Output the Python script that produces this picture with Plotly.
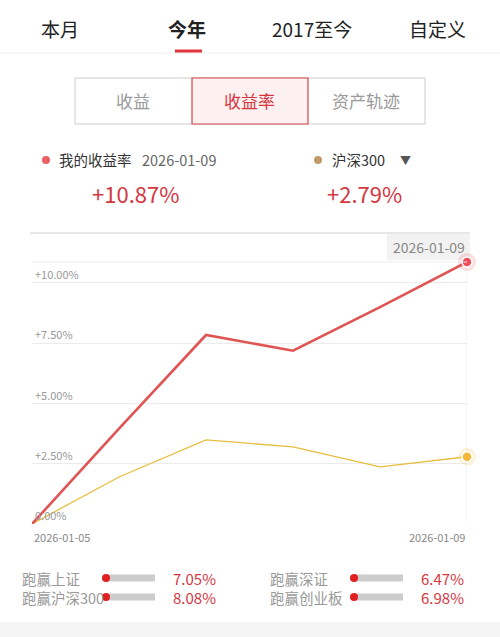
import plotly.graph_objects as go

# ---------------- data ----------------
dates = ["2026-01-05", "2026-01-06", "2026-01-07", "2026-01-08", "2026-01-09"]
x_index = [0, 1, 2, 3, 4, 5]
my_rate = [0.0, 3.96, 7.84, 7.19, 9.0, 10.87]
hs300 = [0.0, 1.95, 3.49, 3.20, 2.37, 2.79]
y_ticks = [0, 2.5, 5, 7.5, 10]
y_ticktext = ["0.00%", "+2.50%", "+5.00%", "+7.50%", "+10.00%"]
tabs = ["本月", "今年", "2017至今", "自定义"]
segments = ["收益", "收益率", "资产轨迹"]
stats_left = [("跑赢上证", "7.05%"), ("跑赢沪深300", "8.08%")]
stats_right = [("跑赢深证", "6.47%"), ("跑赢创业板", "6.98%")]

W, H = 500, 637
L, R, T, B = 32, 467, 262, 524
FONT = "Noto Sans CJK SC"
RED_TXT = "#d4373f"
RED_LINE = "#e05454"
YEL = "#e8bd3f"


def px(x):
    return (x - L) / (R - L)


def py(y):
    return (B - y) / (B - T)


fig = go.Figure()

# series
fig.add_trace(go.Scatter(x=x_index, y=hs300, mode="lines",
                         line=dict(color=YEL, width=1.3), hoverinfo="skip"))
fig.add_trace(go.Scatter(x=x_index, y=my_rate, mode="lines",
                         line=dict(color=RED_LINE, width=2.6), hoverinfo="skip"))
# end markers with halo
fig.add_trace(go.Scatter(x=[x_index[-1]], y=[hs300[-1]], mode="markers", cliponaxis=False,
                         marker=dict(size=18, color="rgba(240,190,60,0.18)", line=dict(width=0)),
                         hoverinfo="skip"))
fig.add_trace(go.Scatter(x=[x_index[-1]], y=[hs300[-1]], mode="markers", cliponaxis=False,
                         marker=dict(size=10, color="#f2b83a", line=dict(color="white", width=1.5)),
                         hoverinfo="skip"))
fig.add_trace(go.Scatter(x=[x_index[-1]], y=[my_rate[-1]], mode="markers", cliponaxis=False,
                         marker=dict(size=18, color="rgba(235,80,90,0.18)", line=dict(width=0)),
                         hoverinfo="skip"))
fig.add_trace(go.Scatter(x=[x_index[-1]], y=[my_rate[-1]], mode="markers", cliponaxis=False,
                         marker=dict(size=10, color="#ee4d5a", line=dict(color="white", width=1.5)),
                         hoverinfo="skip"))

shapes = []
ann = []

# top tabs
tab_x = [60, 187, 312, 437]
for t, xx in zip(tabs, tab_x):
    ann.append(dict(x=px(xx), y=py(28), xref="paper", yref="paper", text=("<b>%s</b>" % t) if t == "今年" else t,
                    showarrow=False, font=dict(family=FONT, size=19, color="#222"),
                    xanchor="center", yanchor="middle"))
shapes.append(dict(type="line", xref="paper", yref="paper", x0=px(0), x1=px(500), y0=py(53), y1=py(53),
                   line=dict(color="#eeeeee", width=1)))
shapes.append(dict(type="line", xref="paper", yref="paper", x0=px(175), x1=px(202), y0=py(51), y1=py(51),
                   line=dict(color="#e0343c", width=3)))

# segmented control
shapes.append(dict(type="rect", xref="paper", yref="paper", x0=px(75), x1=px(425), y0=py(124), y1=py(78),
                   line=dict(color="#cccccc", width=1), fillcolor="white"))
shapes.append(dict(type="rect", xref="paper", yref="paper", x0=px(192), x1=px(308), y0=py(124), y1=py(78),
                   line=dict(color="#d6444b", width=1.2), fillcolor="#fdf0f0"))
seg_x = [133, 250, 366]
for s, xx in zip(segments, seg_x):
    ann.append(dict(x=px(xx), y=py(101), xref="paper", yref="paper", text=s, showarrow=False,
                    font=dict(family=FONT, size=17, color=RED_TXT if s == "收益率" else "#999999"),
                    xanchor="center", yanchor="middle"))

# legend row
shapes.append(dict(type="circle", xref="paper", yref="paper", x0=px(42), x1=px(50), y0=py(156), y1=py(164),
                   fillcolor="#e8605f", line=dict(width=0)))
ann.append(dict(x=px(57), y=py(160), xref="paper", yref="paper", text="我的收益率", showarrow=False,
                font=dict(family=FONT, size=14.5, color="#333"), xanchor="left", yanchor="middle"))
ann.append(dict(x=px(140), y=py(160), xref="paper", yref="paper", text=dates[-1], showarrow=False,
                font=dict(family=FONT, size=14.5, color="#666"), xanchor="left", yanchor="middle"))
shapes.append(dict(type="circle", xref="paper", yref="paper", x0=px(314), x1=px(322), y0=py(156), y1=py(164),
                   fillcolor="#c29a68", line=dict(width=0)))
ann.append(dict(x=px(330), y=py(160), xref="paper", yref="paper", text="沪深300", showarrow=False,
                font=dict(family=FONT, size=14.5, color="#333"), xanchor="left", yanchor="middle"))
ann.append(dict(x=px(405), y=py(160), xref="paper", yref="paper", text="▼", showarrow=False,
                font=dict(family=FONT, size=11, color="#555"), xanchor="center", yanchor="middle"))
ann.append(dict(x=px(135), y=py(193), xref="paper", yref="paper", text="+%.2f%%" % my_rate[-1], showarrow=False,
                font=dict(family=FONT, size=22, color=RED_TXT), xanchor="center", yanchor="middle"))
ann.append(dict(x=px(364), y=py(193), xref="paper", yref="paper", text="+%.2f%%" % hs300[-1], showarrow=False,
                font=dict(family=FONT, size=22, color=RED_TXT), xanchor="center", yanchor="middle"))

# chart frame elements
shapes.append(dict(type="line", xref="paper", yref="paper", x0=px(30), x1=px(470), y0=py(233), y1=py(233),
                   line=dict(color="#cfcfcf", width=1)))
shapes.append(dict(type="line", xref="paper", yref="paper", x0=0, x1=1, y0=1, y1=1,
                   line=dict(color="#ebebeb", width=1)))
shapes.append(dict(type="line", xref="x", yref="paper", x0=x_index[-1], x1=x_index[-1], y0=0, y1=1,
                   line=dict(color="#eeeeee", width=1), layer="below"))
shapes.append(dict(type="rect", xref="paper", yref="paper", x0=px(387), x1=px(470), y0=py(260), y1=py(234),
                   fillcolor="#f2f2f2", line=dict(width=0), layer="below"))
ann.append(dict(x=px(467), y=py(247), xref="paper", yref="paper", text=dates[-1], showarrow=False,
                font=dict(family=FONT, size=14, color="#888"), xanchor="right", yanchor="middle"))

# x labels
ann.append(dict(x=x_index[0], y=py(537), xref="x", yref="paper", text=dates[0], showarrow=False,
                font=dict(family=FONT, size=11, color="#888"), xanchor="left", yanchor="middle"))
ann.append(dict(x=x_index[-1], y=py(537), xref="x", yref="paper", text=dates[-1], showarrow=False,
                font=dict(family=FONT, size=11, color="#888"), xanchor="right", yanchor="middle"))

# bottom stats
def stat_row(label, val, ytxt, lx, bx0, bx1, vx):
    ann.append(dict(x=px(lx), y=py(ytxt), xref="paper", yref="paper", text=label, showarrow=False,
                    font=dict(family=FONT, size=14.5, color="#999"), xanchor="left", yanchor="middle"))
    shapes.append(dict(type="line", xref="paper", yref="paper", x0=px(bx0), x1=px(bx1), y0=py(ytxt), y1=py(ytxt),
                       line=dict(color="#cccccc", width=7)))
    shapes.append(dict(type="circle", xref="paper", yref="paper", x0=px(bx0 - 4), x1=px(bx0 + 4),
                       y0=py(ytxt + 4), y1=py(ytxt - 4), fillcolor="#e02020", line=dict(width=0)))
    ann.append(dict(x=px(vx), y=py(ytxt), xref="paper", yref="paper", text=val, showarrow=False,
                    font=dict(family=FONT, size=15, color=RED_TXT), xanchor="right", yanchor="middle"))

for i, (lab, v) in enumerate(stats_left):
    stat_row(lab, v, 578 + i * 19, 20, 106, 155, 218)
for i, (lab, v) in enumerate(stats_right):
    stat_row(lab, v, 578 + i * 19, 268, 354, 403, 466)

shapes.append(dict(type="rect", xref="paper", yref="paper", x0=px(0), x1=px(500), y0=py(637), y1=py(622),
                   fillcolor="#f5f5f5", line=dict(width=0)))

fig.update_layout(
    width=W, height=H,
    margin=dict(l=L, r=W - R, t=T, b=H - B, pad=0),
    paper_bgcolor="white", plot_bgcolor="white",
    showlegend=False,
    shapes=shapes, annotations=ann,
    font=dict(family=FONT),
    xaxis=dict(range=[x_index[0], x_index[-1]], showgrid=False, zeroline=False, showticklabels=False,
               showline=False, fixedrange=True),
    yaxis=dict(range=[0, my_rate[-1]], tickvals=y_ticks, ticktext=y_ticktext,
               ticklabelposition="inside top", showgrid=True, gridcolor="#ebebeb", gridwidth=1,
               zeroline=False, showline=False, tickfont=dict(family=FONT, size=11, color="#999"),
               fixedrange=True),
)

fig.write_html("out.html", config={"displayModeBar": False},
               post_script="document.body.style.margin='0';document.body.style.overflow='hidden';")
